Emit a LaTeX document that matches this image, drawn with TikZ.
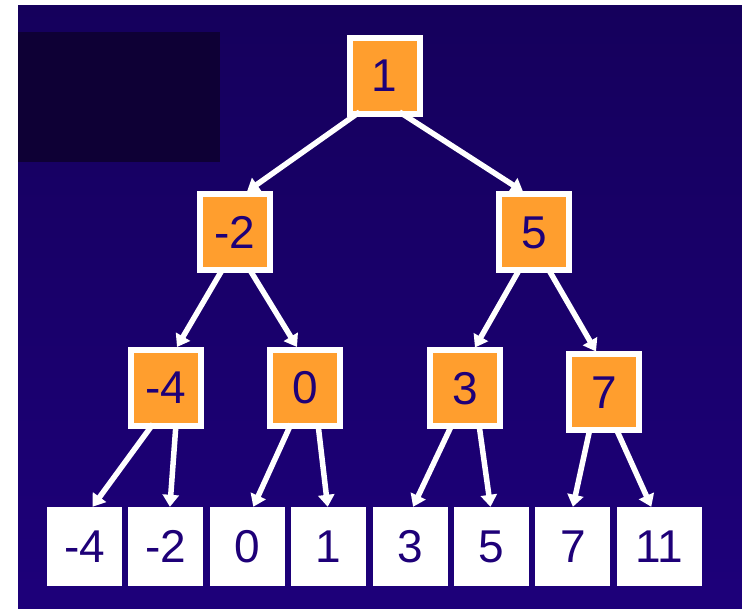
\documentclass[tikz,border=0pt]{standalone}
\usepackage{fontspec}
\setmainfont{Liberation Sans}
\usetikzlibrary{arrows.meta,positioning}

\definecolor{slidetop}{RGB}{21,0,92}
\definecolor{slidebottom}{RGB}{29,0,122}
\definecolor{shadowbox}{RGB}{14,0,53}
\definecolor{sumorange}{RGB}{255,158,46}
\definecolor{digitnavy}{RGB}{30,0,120}

\begin{document}
\begin{tikzpicture}[
    x=1pt, y=-1pt,
    sumbox/.style={draw=white, line width=6pt, fill=sumorange, minimum width=70pt, minimum height=76pt, inner sep=0pt, text=digitnavy, font=\fontsize{46}{46}\selectfont},
    leafbox/.style={fill=white, minimum width=75pt, minimum height=79pt, inner sep=0pt, text=digitnavy, font=\fontsize{46}{46}\selectfont},
    arr/.style={draw=white, line width=5.5pt, -{Triangle[length=12pt,width=16pt]}}
  ]
    \useasboundingbox (0,0) rectangle (742,609);
    % slide background
    \shade[top color=slidetop, bottom color=slidebottom] (18,6) rectangle (742,609);
    \fill[shadowbox] (18,32) rectangle (220,162);

    % partial sums
    \node[sumbox] (root) at (384.5,76) {1};
    \node[sumbox] (nm2) at (235,232.5) {-2};
    \node[sumbox] (np5) at (534,232.5) {5};
    \node[sumbox] (nm4) at (166,388) {-4};
    \node[sumbox] (nz0) at (305,388) {0};
    \node[sumbox] (np3) at (465,388.5) {3};
    \node[sumbox] (np7) at (604,392.5) {7};

    % leaves
    \node[leafbox] (lm4) at (84.5,546.5) {-4};
    \node[leafbox, right=6pt of lm4] (lm2) {-2};
    \node[leafbox, right=6pt of lm2] (lz0) {0};
    \node[leafbox, right=6pt of lz0] (lp1) {1};
    \node[leafbox, right=6pt of lp1] (lp3) {3};
    \node[leafbox, right=6pt of lp3] (lp5) {5};
    \node[leafbox, right=6pt of lp5] (lp7) {7};
    \node[leafbox, right=6pt of lp7, minimum width=85pt] (lp11) {11};

    \draw[arr] ([xshift=-25pt,yshift=5pt]root.south) -- ([xshift=12pt]nm2.north);
    \draw[arr] ([xshift=15pt,yshift=5pt]root.south) -- ([xshift=-11pt]np5.north);
    \draw[arr] ([xshift=-12pt,yshift=5pt]nm2.south) -- ([xshift=11pt]nm4.north);
    \draw[arr] ([xshift=14pt,yshift=5pt]nm2.south) -- ([xshift=-8pt]nz0.north);
    \draw[arr] ([xshift=-14pt,yshift=5pt]np5.south) -- ([xshift=10pt]np3.north);
    \draw[arr] ([xshift=14pt,yshift=5pt]np5.south) -- ([xshift=-8pt]np7.north);
    \draw[arr] ([xshift=-13pt,yshift=5pt]nm4.south) -- ([xshift=8pt]lm4.north);
    \draw[arr] ([xshift=10pt,yshift=5pt]nm4.south) -- ([xshift=4pt]lm2.north);
    \draw[arr] ([xshift=-14pt,yshift=5pt]nz0.south) -- ([xshift=6pt]lz0.north);
    \draw[arr] ([xshift=13pt,yshift=5pt]nz0.south) -- ([xshift=-1pt]lp1.north);
    \draw[arr] ([xshift=-13pt,yshift=5pt]np3.south) -- ([xshift=3pt]lp3.north);
    \draw[arr] ([xshift=14pt,yshift=5pt]np3.south) -- ([xshift=-1pt]lp5.north);
    \draw[arr] ([xshift=-14pt,yshift=5pt]np7.south) -- (lp7.north);
    \draw[arr] ([xshift=12pt,yshift=5pt]np7.south) -- ([xshift=-8pt]lp11.north);
  \end{tikzpicture}
\end{document}
